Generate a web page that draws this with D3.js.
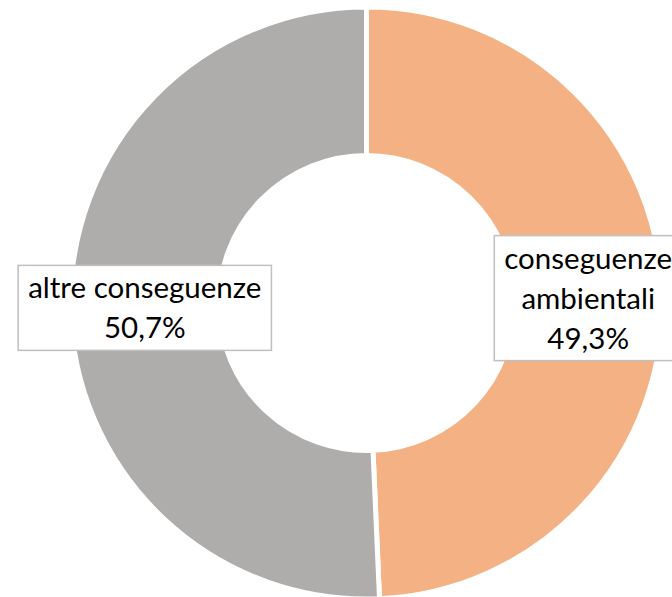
<!DOCTYPE html>
<html>
<head>
<meta charset="utf-8">
<script src="https://cdn.jsdelivr.net/npm/d3@7"></script>
<style>
html,body{margin:0;padding:0;background:#fff;overflow:hidden;}
svg{display:block;}
</style>
</head>
<body>
<svg id="chart" width="672" height="597"></svg>
<script>
const categories = ["conseguenze ambientali", "altre conseguenze"];
const values = [49.3, 50.7];
const valueLabels = ["49,3%", "50,7%"];
const labelLines = [["conseguenze", "ambientali"], ["altre conseguenze"]];
const colors = ["#F4B183", "#AEADAB"];

const W = 672, H = 597;
const cx = 366.5, cy = 303;
const outerR = 296, innerR = 147.5;
const fontSize = 29.5, lineH = 40;

const svg = d3.select("#chart");
const g = svg.append("g").attr("transform", `translate(${cx},${cy})`);

const data = categories.map((c, i) => ({ cat: c, value: values[i], label: valueLabels[i], lines: labelLines[i], color: colors[i] }));

const pie = d3.pie().value(d => d.value).sort(null);
const arc = d3.arc().innerRadius(innerR).outerRadius(outerR);
const arcs = pie(data);

g.selectAll("path.slice").data(arcs).join("path")
  .attr("class", "slice")
  .attr("d", arc)
  .attr("fill", d => d.data.color)
  .attr("stroke", "#fff")
  .attr("stroke-width", 5)
  .attr("stroke-linejoin", "miter");

const labels = g.selectAll("g.label").data(arcs).join("g").attr("class", "label");
labels.each(function(d) {
  const [x, y] = arc.centroid(d);
  const sel = d3.select(this);
  const lines = d.data.lines.concat([d.data.label]);
  const n = lines.length;
  const rect = sel.append("rect");
  const text = sel.append("text")
    .attr("text-anchor", "middle")
    .attr("font-family", "Lato, 'Open Sans', sans-serif")
    .attr("font-size", fontSize)
    .attr("fill", "#000");
  const top = y - (n * lineH + 5) / 2;
  lines.forEach((t, i) => {
    text.append("tspan").attr("x", x).attr("y", top + 33 + i * lineH).text(t);
  });
  let maxW = 0;
  text.selectAll("tspan").each(function() { maxW = Math.max(maxW, this.getComputedTextLength()); });
  const bw = maxW + 20;
  rect.attr("x", x - bw / 2).attr("y", top)
    .attr("width", bw).attr("height", n * lineH + 5)
    .attr("fill", "#fff").attr("stroke", "#BFBFBF").attr("stroke-width", 1.5);
});
</script>
</body>
</html>
